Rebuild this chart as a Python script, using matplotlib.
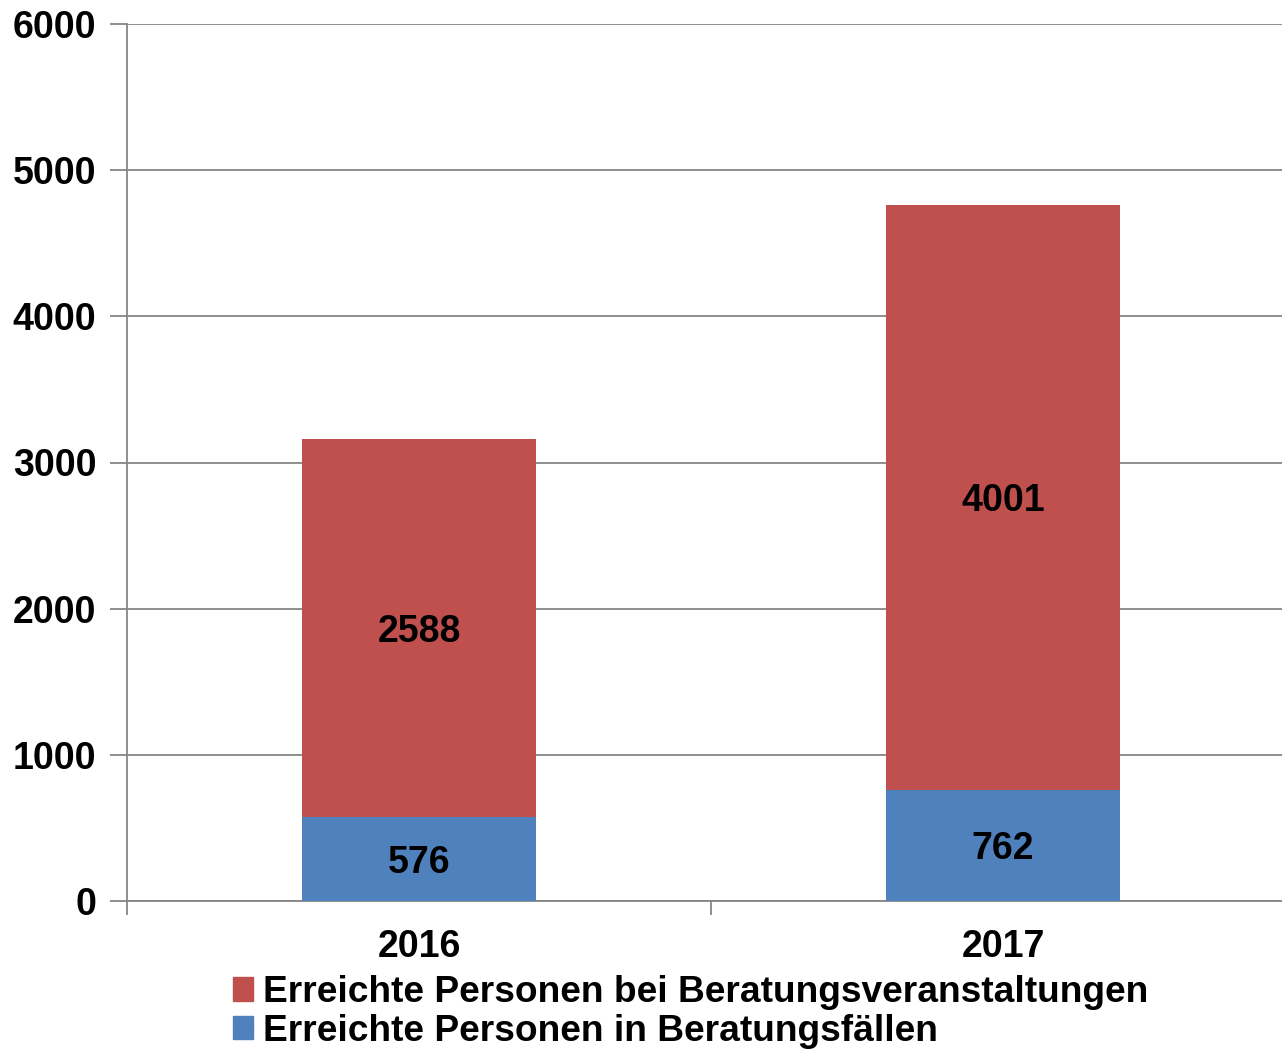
import matplotlib.pyplot as plt
import numpy as np
from matplotlib.patches import Patch

plt.rcParams['font.family'] = ['Liberation Sans', 'DejaVu Sans']
plt.rcParams['font.weight'] = 'bold'

years = ['2016', '2017']
faelle = [576, 762]
veranstaltungen = [2588, 4001]
label_faelle = 'Erreichte Personen in Beratungsfällen'
label_veranst = 'Erreichte Personen bei Beratungsveranstaltungen'

blue = '#4F81BD'
red = '#C0504D'
gray = '#868686'
fs = 27

fig = plt.figure(figsize=(12.82, 10.51), dpi=100)
ax = fig.add_axes([127/1282, 150/1051, 1168/1282, (1027 - 150)/1051])

x = np.arange(len(years))
w = 0.399
ax.bar(x, faelle, w, color=blue, zorder=3)
ax.bar(x, veranstaltungen, w, bottom=faelle, color=red, zorder=3)

for i in range(len(years)):
    ax.text(x[i], faelle[i] / 2, str(faelle[i]), ha='center', va='center_baseline',
            fontsize=fs, fontweight='bold', zorder=4)
    ax.text(x[i], faelle[i] + veranstaltungen[i] / 2, str(veranstaltungen[i]),
            ha='center', va='center_baseline', fontsize=fs, fontweight='bold', zorder=4)

ax.set_xlim(-0.5, 1.5)
ax.set_ylim(0, 6000)
ax.set_yticks(np.arange(0, 6001, 1000))
ax.yaxis.grid(True, color=gray, linewidth=1.3)
ax.set_axisbelow(True)

ax.set_xticks(x)
ax.set_xticklabels(years)
ax.set_xticks([-0.5, 0.5, 1.5], minor=True)
ax.tick_params(axis='x', which='major', length=0, pad=20, labelsize=fs)
ax.tick_params(axis='x', which='minor', length=10, color=gray, width=1.3)
ax.tick_params(axis='y', length=12, color=gray, width=1.3, labelsize=fs, pad=10)
for lab in ax.get_xticklabels() + ax.get_yticklabels():
    lab.set_fontweight('bold')

for s in ['top', 'right']:
    ax.spines[s].set_visible(False)
for s in ['left', 'bottom']:
    ax.spines[s].set_color(gray)
    ax.spines[s].set_linewidth(1.3)

handles = [Patch(color=red, label=label_veranst), Patch(color=blue, label=label_faelle)]
fig.legend(handles=handles, loc='upper left', bbox_to_anchor=(233/1282, 1 - 975/1051),
           frameon=False, handlelength=0.55, handleheight=0.6,
           handletextpad=0.25, labelspacing=0.1, borderaxespad=0, borderpad=0,
           prop={'weight': 'bold', 'size': 26.7})

fig.savefig('out.png', dpi=100)
